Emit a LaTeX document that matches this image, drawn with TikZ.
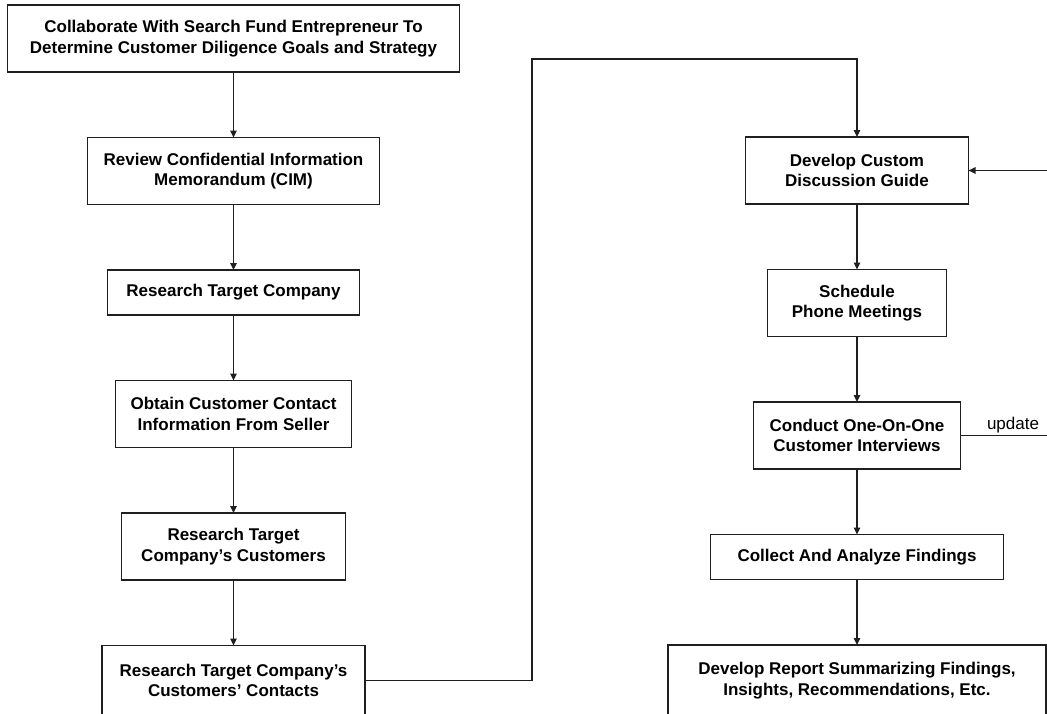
\documentclass[tikz,border=0pt]{standalone}
\usepackage{fontspec}
\setmainfont{Liberation Sans}
\usetikzlibrary{arrows.meta,positioning}
\definecolor{ink}{HTML}{1F1F1F}
\tikzset{
  box/.style={
    draw=ink, line width=1.4pt, fill=white, outer sep=0pt,
    inner xsep=4pt, inner ysep=2pt, align=center,
    font=\bfseries\fontsize{17}{20.5}\selectfont
  },
  twoline/.style={box, minimum height=67pt},
  oneline/.style={box, minimum height=45pt},
  arrow/.style={-{Triangle[length=7pt,width=6.5pt]}, line width=1.4pt, draw=ink}
}
\begin{document}
\begin{tikzpicture}[x=1pt, y=-1pt, node distance=65.5pt]
  \useasboundingbox (0,0) rectangle (1047,713);
  \clip (0,0) rectangle (1047,713);
  % left column
  \node[twoline, minimum width=452pt] (collab) at (233.5,38.5)
    {Collaborate With Search Fund Entrepreneur To\\Determine Customer Diligence Goals and Strategy};
  \node[twoline, minimum width=292pt, below=of collab] (cim)
    {Review Confidential Information\\Memorandum (CIM)};
  \node[oneline, minimum width=252pt, below=of cim] (target) {Research Target Company};
  \node[twoline, minimum width=236pt, below=of target] (contact)
    {Obtain Customer Contact\\Information From Seller};
  \node[twoline, minimum width=224pt, below=of contact] (customers)
    {Research Target\\Company’s Customers};
  \node[twoline, minimum width=263pt, minimum height=70pt, below=of customers] (contacts)
    {Research Target Company’s\\Customers’ Contacts};
  % right column
  \node[twoline, minimum width=223pt] (guide) at (857,170.5)
    {Develop Custom\\Discussion Guide};
  \node[twoline, minimum width=179pt, below=of guide] (schedule)
    {Schedule\\Phone Meetings};
  \node[twoline, minimum width=207pt, below=of schedule] (interview)
    {Conduct One-On-One\\Customer Interviews};
  \node[oneline, minimum width=293pt, below=of interview] (findings)
    {Collect And Analyze Findings};
  \node[twoline, minimum width=378pt, minimum height=71pt, below=of findings] (report)
    {Develop Report Summarizing Findings,\\Insights, Recommendations, Etc.};
  \coordinate (jog) at (532,59);
  \draw[arrow] (collab) -- (cim);
  \draw[arrow] (cim) -- (target);
  \draw[arrow] (target) -- (contact);
  \draw[arrow] (contact) -- (customers);
  \draw[arrow] (customers) -- (contacts);
  \draw[arrow] (contacts.east) -| (jog) -| (guide.north);
  \draw[arrow] (guide) -- (schedule);
  \draw[arrow] (schedule) -- (interview);
  \draw[arrow] (interview) -- (findings);
  \draw[arrow] (findings) -- (report);
  \draw[arrow] (interview.east) -- node[above, font=\fontsize{17}{20.5}\selectfont, inner sep=2pt] {update}
    ++(105,0) |- (guide.east);
\end{tikzpicture}
\end{document}
